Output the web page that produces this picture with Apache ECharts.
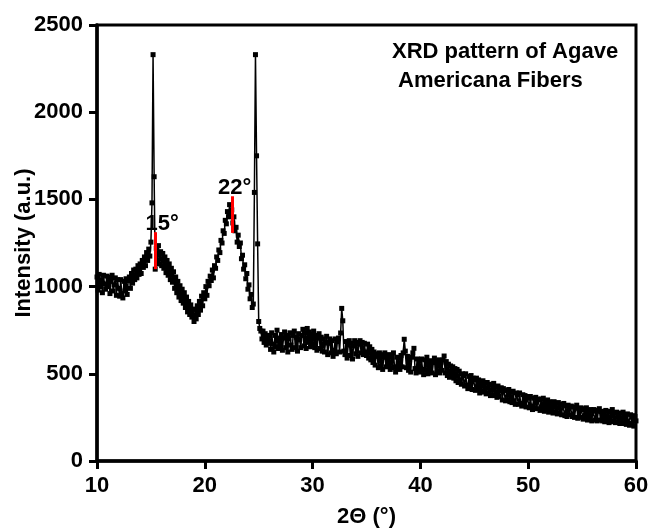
<!DOCTYPE html>
<html>
<head>
<meta charset="utf-8">
<script src="https://cdn.jsdelivr.net/npm/echarts@6/dist/echarts.min.js"></script>
<style>
  body { margin: 0; background: #fff; }
  #chart { width: 649px; height: 529px; }
</style>
</head>
<body>
<div id="chart"></div>
<script>
// measurement grid: 2θ from 10° to 60° in 0.1° steps
const xStart = 10
const xStep = 0.1

// intensity, one row per degree
const intensity = [
  1055, 980, 1070, 1000, 1040, 965, 1065, 1015, 985, 1060,
  1000, 1055, 960, 1030, 1065, 975, 1010, 1050, 950, 1040,
  990, 945, 1040, 960, 935, 1030, 975, 1045, 955, 1035,
  1055, 990, 1075, 1020, 1095, 1040, 1100, 1050, 1120, 1070,
  1130, 1075, 1150, 1110, 1170, 1120, 1195, 1150, 1215, 1175,
  1255, 1480, 2330, 1630, 1100, 1220, 1150, 1235, 1130, 1200,
  1120, 1190, 1105, 1170, 1080, 1150, 1065, 1130, 1040, 1105,
  1025, 1085, 990, 1055, 965, 1030, 940, 1005, 920, 985,
  905, 965, 880, 940, 855, 915, 840, 895, 825, 870,
  800, 870, 815, 890, 840, 915, 865, 945, 890, 965,
  930, 1000, 950, 1030, 1005, 1060, 1035, 1095, 1050, 1120,
  1105, 1170, 1150, 1210, 1195, 1265, 1250, 1320, 1305, 1380,
  1360, 1430, 1400, 1470, 1420, 1440, 1365, 1400, 1320, 1340,
  1255, 1295, 1230, 1250, 1160, 1180, 1100, 1125, 1045, 1075,
  985, 1010, 930, 955, 880, 900, 1540, 2330, 1750, 1245,
  800, 760, 745, 700, 745, 680, 730, 665, 720, 675,
  720, 640, 735, 670, 625, 720, 655, 750, 645, 705,
  660, 725, 635, 705, 740, 650, 720, 625, 700, 735,
  665, 640, 720, 745, 650, 710, 630, 730, 695, 650,
  720, 755, 660, 735, 645, 760, 680, 740, 655, 725,
  670, 745, 650, 720, 635, 705, 730, 645, 710, 630,
  700, 625, 680, 715, 610, 675, 700, 620, 690, 600,
  635, 700, 615, 685, 705, 625, 734, 875, 804, 630,
  610, 685, 590, 665, 690, 605, 675, 585, 660, 690,
  615, 680, 600, 670, 690, 620, 680, 610, 675, 625,
  605, 670, 590, 655, 580, 640, 565, 625, 550, 615,
  600, 535, 620, 545, 610, 525, 595, 620, 540, 600,
  545, 610, 525, 595, 535, 620, 540, 510, 595, 535,
  590, 525, 605, 540, 620, 698, 630, 535, 600, 520,
  580, 510, 595, 620, 646, 530, 505, 585, 520, 575,
  510, 585, 525, 495, 580, 520, 595, 500, 570, 515,
  575, 505, 565, 590, 495, 570, 515, 580, 505, 565,
  520, 580, 602, 505, 570, 490, 555, 480, 545, 485,
  540, 475, 530, 460, 525, 450, 515, 465, 440, 500,
  490, 430, 500, 435, 415, 485, 425, 490, 410, 475,
  465, 405, 475, 410, 465, 390, 455, 400, 460, 395,
  445, 385, 450, 390, 440, 375, 435, 380, 445, 375,
  425, 365, 430, 370, 400, 420, 350, 415, 405, 345,
  405, 350, 410, 340, 395, 335, 400, 345, 325, 390,
  380, 325, 390, 330, 315, 380, 320, 375, 310, 370,
  360, 305, 370, 315, 295, 360, 305, 365, 300, 355,
  350, 290, 355, 300, 360, 285, 345, 295, 350, 280,
  340, 285, 335, 275, 340, 280, 330, 270, 335, 275,
  325, 265, 320, 330, 260, 315, 255, 320, 265, 310,
  315, 255, 310, 250, 305, 320, 245, 300, 250, 305,
  295, 240, 300, 245, 305, 235, 290, 240, 295, 230,
  285, 295, 235, 290, 230, 285, 300, 235, 285, 230,
  280, 225, 290, 235, 285, 220, 280, 230, 295, 225,
  275, 220, 280, 225, 270, 215, 275, 220, 280, 215,
  265, 210, 270, 215, 205, 265, 210, 260, 200, 255,
  230
]

// marked peaks (red bars)
const peakNames = ['15°', '22°']
const peakPos = [15.4, 22.5]
const peakLow = [1100, 1308]
const peakHigh = [1312, 1518]
const peakLabelShift = [7, 3]

const font = 'Liberation Sans, Arial, sans-serif'

const points = intensity.map((v, i) => [+(xStart + i * xStep).toFixed(2), v])

const peakLines = peakNames.map((n, i) => [
    {coord: [peakPos[i], peakLow[i]], name: n, label: {offset: [peakLabelShift[i], 3]}},
    {coord: [peakPos[i], peakHigh[i]]}
])

const axisText = {color: '#000', fontSize: 22, fontWeight: 'bold', fontFamily: font}

const chart = echarts.init(document.getElementById('chart'))
chart.setOption({
    animation: false,
    title: {
        text: 'XRD pattern of Agave\n Americana Fibers',
        left: 387,
        top: 32,
        textStyle: {color: '#000', fontSize: 22, fontWeight: 'bold', fontFamily: font, lineHeight: 29}
    },
    grid: {
        left: 97, right: 13, top: 25, bottom: 68,
        outerBoundsMode: 'none', containLabel: false,
        show: true, borderColor: '#000', borderWidth: 3
    },
    xAxis: {
        type: 'value',
        min: 10,
        max: 60,
        interval: 10,
        name: '2Θ (°)',
        nameLocation: 'middle',
        nameGap: 45,
        nameMoveOverlap: false,
        nameTextStyle: axisText,
        axisLine: {show: true, onZero: false, lineStyle: {color: '#000', width: 3.5}},
        axisTick: {show: true, length: 8, lineStyle: {color: '#000', width: 3}},
        axisLabel: Object.assign({margin: 14, formatter: v => String(v)}, axisText),
        splitLine: {show: false}
    },
    yAxis: {
        type: 'value',
        min: 0,
        max: 2500,
        interval: 500,
        name: 'Intensity (a.u.)',
        nameLocation: 'middle',
        nameGap: 62,
        nameMoveOverlap: false,
        nameTextStyle: axisText,
        axisLine: {show: true, onZero: false, lineStyle: {color: '#000', width: 3.5}},
        axisTick: {show: true, length: 8, lineStyle: {color: '#000', width: 3}},
        axisLabel: Object.assign({margin: 14, formatter: v => String(v)}, axisText),
        splitLine: {show: false}
    },
    series: [{
        type: 'line',
        data: points,
        symbol: 'rect',
        symbolSize: 5,
        showSymbol: true,
        itemStyle: {color: '#000'},
        lineStyle: {color: '#000', width: 1.5},
        emphasis: {disabled: true},
        markLine: {
            silent: true,
            symbol: ['none', 'none'],
            lineStyle: {color: '#ff0000', width: 3, type: 'solid'},
            label: {show: true, position: 'end', formatter: '{b}', distance: 0,
                color: '#000', fontSize: 22, fontWeight: 'bold', fontFamily: font},
            emphasis: {disabled: true},
            data: peakLines
        }
    }]
})
</script>
</body>
</html>
